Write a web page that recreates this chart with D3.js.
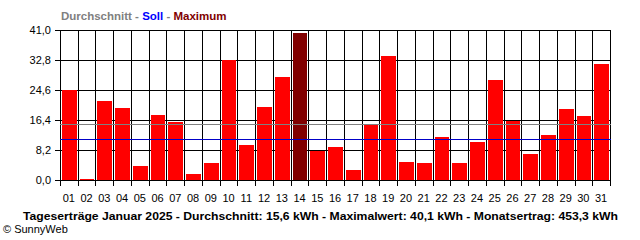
<!DOCTYPE html>
<html><head><meta charset="utf-8">
<script src="https://cdn.jsdelivr.net/npm/d3@7"></script>
<style>
body{margin:0;background:#fff;}
svg{display:block;}
text{font-family:"Liberation Sans",Arial,sans-serif;}
</style></head>
<body>
<svg id="chart" width="640" height="240"></svg>
<script>
const days = ["01","02","03","04","05","06","07","08","09","10","11","12","13","14","15","16","17","18","19","20","21","22","23","24","25","26","27","28","29","30","31"];
const values = [24.7,0.3,21.7,19.8,3.9,17.8,15.9,1.7,4.7,32.7,9.6,20.0,28.2,40.1,8.0,9.1,2.8,15.4,34.0,5.0,4.7,11.8,4.7,10.5,27.4,16.2,7.2,12.4,19.5,17.6,31.6];
const yTicks = [0, 8.2, 16.4, 24.6, 32.8, 41.0];
const average = 15.3;
const target = 11.2;
const legendParts = [["Durchschnitt","#808080"],[" - ","#808080"],["Soll","#0000ff"],[" - ","#808080"],["Maximum","#800000"]];
const footer = "Tageserträge Januar 2025 - Durchschnitt: 15,6 kWh - Maximalwert: 40,1 kWh - Monatsertrag: 453,3 kWh";
const credit = "© SunnyWeb";

const svg = d3.select("#chart");
const x = d3.scaleBand().domain(days).range([60, 610]).padding(0);
const y = d3.scaleLinear().domain([0, 41]).range([180, 30]);
const px = v => Math.round(v) + 0.5;
const maxVal = d3.max(values);

// horizontal grid lines with left ticks
svg.append("g").selectAll("line").data(yTicks).join("line")
  .attr("x1", 55).attr("x2", 610)
  .attr("y1", d => px(y(d))).attr("y2", d => px(y(d)))
  .attr("stroke", "#000").attr("stroke-width", 1).attr("shape-rendering", "crispEdges");

// vertical grid lines with bottom ticks
const bounds = days.map(d => x(d)).concat([610]);
svg.append("g").selectAll("line").data(bounds).join("line")
  .attr("x1", d => px(d)).attr("x2", d => px(d))
  .attr("y1", 30).attr("y2", 186)
  .attr("stroke", "#000").attr("stroke-width", 1).attr("shape-rendering", "crispEdges");

// bars
svg.append("g").selectAll("rect").data(values).join("rect")
  .attr("x", (d, i) => Math.round(x(days[i]) + 2))
  .attr("width", (d, i) => Math.round(x(days[i]) + x.bandwidth() - 1) - Math.round(x(days[i]) + 2))
  .attr("y", d => Math.round(y(d)))
  .attr("height", d => Math.round(y(0)) - Math.round(y(d)))
  .attr("fill", d => d === maxVal ? "#800000" : "#ff0000")
  .attr("shape-rendering", "crispEdges");

// average and target lines
[[average, "#808080"], [target, "#0000c8"]].forEach(([v, c]) => {
  svg.append("line").attr("x1", 60).attr("x2", 611)
    .attr("y1", px(y(v))).attr("y2", px(y(v)))
    .attr("stroke", c).attr("stroke-width", 1).attr("shape-rendering", "crispEdges");
});

// y labels
const fmt = d => d3.format(".1f")(d).replace(".", ",");
svg.append("g").selectAll("text").data(yTicks).join("text")
  .attr("x", 51).attr("y", d => y(d) + 4)
  .attr("text-anchor", "end").attr("font-size", 11).attr("fill", "#000")
  .text(fmt);

// x labels
svg.append("g").selectAll("text").data(days).join("text")
  .attr("x", d => x(d) + x.bandwidth() / 2).attr("y", 202)
  .attr("text-anchor", "middle").attr("font-size", 11).attr("fill", "#000")
  .text(d => d);

// legend title
const lt = svg.append("text").attr("x", 61).attr("y", 20)
  .attr("font-size", 11.5).attr("font-weight", "bold");
legendParts.forEach(([t, c]) => lt.append("tspan").attr("fill", c).text(t));

// footer
svg.append("text").attr("x", 23).attr("y", 220)
  .attr("font-size", 11.5).attr("font-weight", "bold").attr("fill", "#000")
  .attr("textLength", 595).attr("lengthAdjust", "spacingAndGlyphs")
  .text(footer);

svg.append("text").attr("x", 3).attr("y", 233)
  .attr("font-size", 11).attr("fill", "#000")
  .text(credit);
</script>
</body></html>
